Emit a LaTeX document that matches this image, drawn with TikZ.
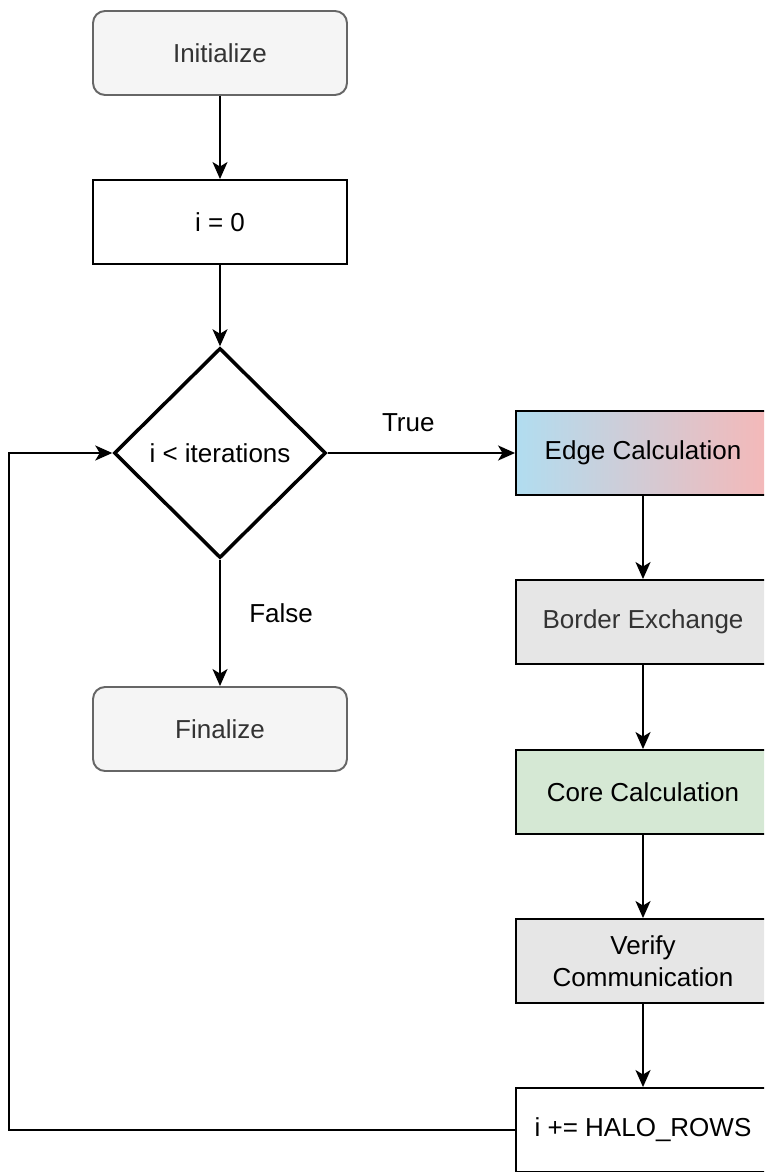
\documentclass[tikz,border=0pt]{standalone}
\usepackage{fontspec}
\setmainfont{Liberation Sans}
\usepackage{xcolor}
\usetikzlibrary{positioning}
\usetikzlibrary{shapes.geometric,calc,arrows.meta}

\definecolor{termfill}{HTML}{F5F5F5}
\definecolor{termline}{HTML}{666666}
\definecolor{softtext}{HTML}{333333}
\definecolor{greyfill}{HTML}{E6E6E6}
\definecolor{greenfill}{HTML}{D5E8D4}
\definecolor{edgeblue}{HTML}{B1DDF0}
\definecolor{edgered}{HTML}{F5B8B8}

\tikzset{
	box/.style={rectangle, draw=black, line width=1.1pt, minimum width=5.08cm, minimum height=1.68cm, inner sep=2pt, align=center, font=\fontsize{14.8}{18}\selectfont},
	terminal/.style={box, rounded corners=0.24cm, draw=termline, fill=termfill, text=softtext},
	decision/.style={diamond, draw=black, line width=2pt, aspect=1, minimum width=4.24cm, minimum height=4.2cm, inner sep=0pt, font=\fontsize{14.8}{18}\selectfont},
	flow/.style={line width=1.1pt, -{Stealth[length=0.34cm, width=0.3cm, inset=0.09cm]}},
	branch/.style={font=\fontsize{14.8}{18}\selectfont}
}

\begin{document}
\begin{tikzpicture}[x=0.02cm, y=-0.02cm]
	\clip (0,0) rectangle (764,1172);
	%left column
	\node[terminal] (init) at (220,53) {Initialize};
	\node[box, fill=white] (zero) at (220,222) {i = 0};
	\node[decision] (cond) at (220,453) {i < iterations};
	\node[terminal] (final) at (220,729) {Finalize};
	%right column (runs past the page edge)
	\node[box, left color=edgeblue, right color=edgered] (edge) at (643,453) {Edge Calculation};
	\node[box, fill=greyfill, text=softtext] (border) at (643,622) {Border Exchange};
	\node[box, fill=greenfill] (core) at (643,792) {Core Calculation};
	\node[box, fill=greyfill] (verify) at (643,961) {Verify\\Communication};
	\node[box, fill=white] (halo) at (643,1130) {i += HALO\_ROWS};

	\draw[flow] (init) -- (zero);
	\draw[flow] (zero) -- (cond);
	\draw[flow] (cond) -- (final) node[branch, pos=0.42, right=0.45cm] (nofalse) {False};
	\draw[flow] (cond) -- (edge) node[branch, pos=0.43, above=0.28cm] (yestrue) {True};
	\draw[flow] (edge) -- (border);
	\draw[flow] (border) -- (core);
	\draw[flow] (core) -- (verify);
	\draw[flow] (verify) -- (halo);
	%loop back round the left side
	\coordinate (back) at (9,1130);
	\draw[flow] (halo.west) -- (back) |- (cond.west);
\end{tikzpicture}
\end{document}
